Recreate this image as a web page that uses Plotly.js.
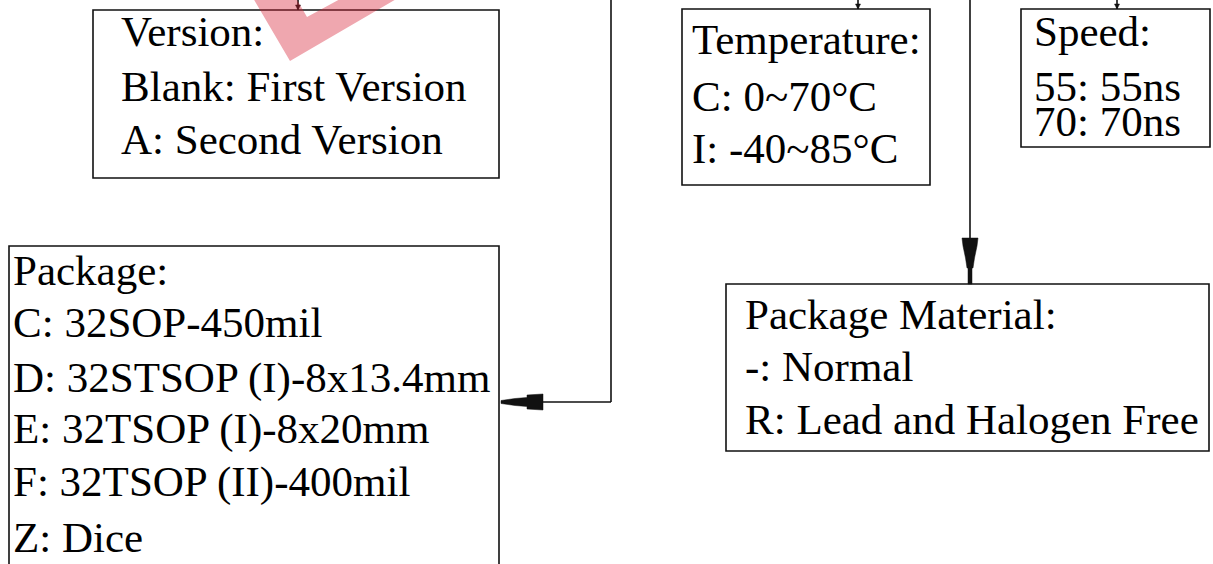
<!DOCTYPE html>
<html>
<head>
<meta charset="utf-8">
<script src="https://cdn.plot.ly/plotly-3.0.1.min.js"></script>
<style>
html,body{margin:0;padding:0;background:#fff;}
#chart{width:1213px;height:564px;}
</style>
</head>
<body>
<div id="chart"></div>
<script>
// ---- content (text of each box) ----
const versionLines = ["Version:", "Blank: First Version", "A: Second Version"];
const temperatureLines = ["Temperature:", "C: 0~70°C", "I: -40~85°C"];
const speedLines = ["Speed:", "55: 55ns", "70: 70ns"];
const packageLines = ["Package:", "C: 32SOP-450mil", "D: 32STSOP (I)-8x13.4mm", "E: 32TSOP (I)-8x20mm", "F: 32TSOP (II)-400mil", "Z: Dice"];
const materialLines = ["Package Material:", "-: Normal", "R: Lead and Halogen Free"];

// ---- layout geometry (pixel space of the diagram) ----
const W = 1213, H = 564;
const boxes = [
  {lines: versionLines,     x0: 93,   x1: 499,  y0: 10,  y1: 178, tx: 120,  ty: [31, 86, 139]},
  {lines: temperatureLines, x0: 682,  x1: 930,  y0: 9,   y1: 185, tx: 691,  ty: [39, 96, 148]},
  {lines: speedLines,       x0: 1021, x1: 1210, y0: 9,   y1: 147, tx: 1033, ty: [31, 86, 121]},
  {lines: packageLines,     x0: 9,    x1: 499,  y0: 246, y1: 580, tx: 12,   ty: [270, 322, 378, 429, 482, 537]},
  {lines: materialLines,    x0: 726,  x1: 1209, y0: 284, y1: 451, tx: 744,  ty: [314, 366, 419]}
];

const ink = '#111';
const shapes = [];
const annotations = [];

boxes.forEach(b => {
  shapes.push({type: 'rect', xref: 'x', yref: 'y', x0: b.x0, x1: b.x1, y0: b.y0, y1: b.y1,
    line: {color: ink, width: 1.6}, fillcolor: 'rgba(0,0,0,0)'});
  b.lines.forEach((t, i) => {
    annotations.push({xref: 'x', yref: 'y', x: b.tx, y: b.ty[i], text: t, showarrow: false,
      xanchor: 'left', yanchor: 'middle', borderpad: 0,
      font: {family: 'Liberation Serif, Times New Roman, serif', size: 43, color: '#000'}});
  });
});

function line(x0, y0, x1, y1, w) {
  shapes.push({type: 'line', xref: 'x', yref: 'y', x0: x0, y0: y0, x1: x1, y1: y1,
    line: {color: ink, width: w || 1.6}});
}
function poly(d, fill) {
  shapes.push({type: 'path', xref: 'x', yref: 'y', path: d, fillcolor: fill || ink,
    line: {color: fill || ink, width: 0.5}});
}

// connector to Package box
line(611, 0, 611, 402);
line(611, 402, 543, 402);
poly('M543,394 L543,410 L527,409 L527,406.5 L515,405.5 L501,403.5 L501,400.5 L515,398.5 L527,397.5 L527,395 Z');

// connector to Package Material box
line(970, 0, 970, 240);
poly('M962,238 L978,238 L977,246 L974.5,258 L973,268 L972,268 L972,284 L968,284 L968,268 L967,268 L965.5,258 L963,246 Z');

// short stubs into the top boxes
[[298, 10], [858, 9], [1117, 9]].forEach(s => {
  line(s[0], 0, s[0], s[1], 1.6);
  poly('M' + (s[0] - 2.5) + ',' + (s[1] - 5) + ' L' + (s[0] + 2.5) + ',' + (s[1] - 5) + ' L' + s[0] + ',' + s[1] + ' Z');
});

// faint red watermark mark at top
shapes.push({type: 'path', xref: 'x', yref: 'y', layer: 'above',
  path: 'M253,-2 L290,61 L398,-2 Z M296,-2 L307,17 L342,-2 Z',
  fillrule: 'evenodd', fillcolor: 'rgba(215,35,55,0.40)', line: {width: 0}});

const layout = {
  width: W, height: H,
  margin: {l: 0, r: 0, t: 0, b: 0, pad: 0},
  paper_bgcolor: '#fff', plot_bgcolor: '#fff',
  xaxis: {range: [0, W], visible: false, fixedrange: true},
  yaxis: {range: [H, 0], visible: false, fixedrange: true},
  showlegend: false,
  shapes: shapes,
  annotations: annotations
};

Plotly.newPlot('chart', [{x: [], y: [], type: 'scatter', hoverinfo: 'skip'}], layout,
  {staticPlot: true, displayModeBar: false});
</script>
</body>
</html>
